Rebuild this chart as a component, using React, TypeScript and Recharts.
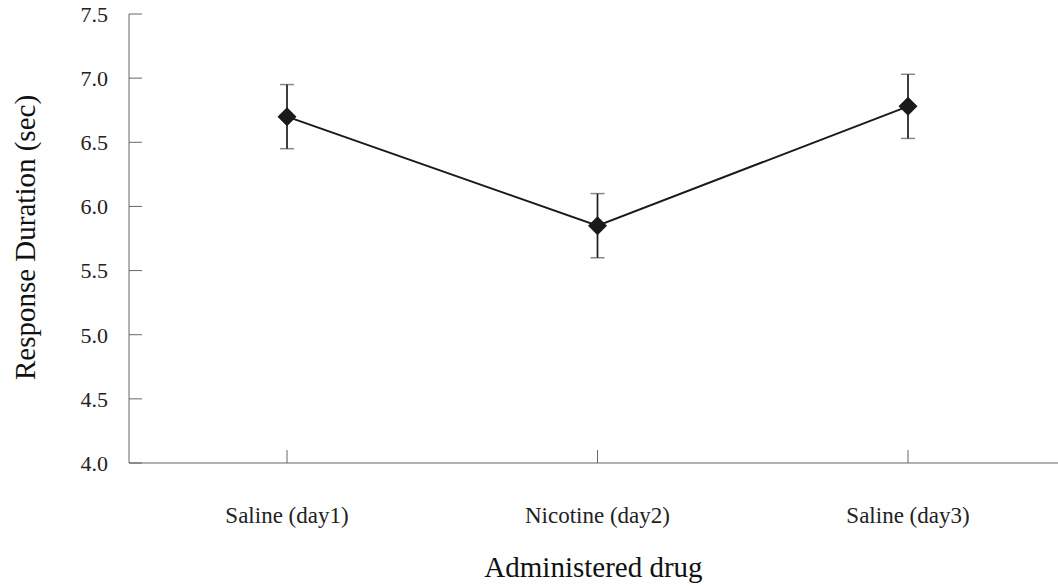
import {
  LineChart,
  Line,
  XAxis,
  YAxis,
  ErrorBar,
} from "recharts";

const categories = ["Saline (day1)", "Nicotine (day2)", "Saline (day3)"];
const durations = [6.7, 5.85, 6.78];
const errors = [0.25, 0.25, 0.25];
const yTicks = [4.0, 4.5, 5.0, 5.5, 6.0, 6.5, 7.0, 7.5];

const FONT = "'Liberation Serif', 'Times New Roman', serif";

const chartData = categories.map((c, i) => ({
  drug: c,
  duration: durations[i],
  err: errors[i],
}));

function Diamond(props: any) {
  const { cx, cy } = props;
  if (cx == null || cy == null) return null;
  const r = 9.5;
  return (
    <polygon
      points={`${cx},${cy - r} ${cx + r},${cy} ${cx},${cy + r} ${cx - r},${cy}`}
      fill="#1a1a1a"
    />
  );
}

export default function App() {
  return (
    <div style={{ position: "absolute", left: 0, top: 0 }}>
      <LineChart
        width={1058}
        height={587}
        data={chartData}
        margin={{ top: 14, right: 0, bottom: 0, left: 8 }}
      >
        <XAxis
          dataKey="drug"
          height={124}
          padding={{ left: 158, right: 150 }}
          stroke="#666"
          tickSize={-13}
          tickMargin={57}
          tick={{ fontSize: 23, fontFamily: FONT, fill: "#222" }}
          label={({ viewBox }: any) => (
            <text
              x={viewBox.x + viewBox.width / 2}
              y={viewBox.y + 114}
              textAnchor="middle"
              fontFamily={FONT}
              fontSize={29}
              fill="#111"
            >
              Administered drug
            </text>
          )}
        />
        <YAxis
          width={121}
          domain={[4, 7.5]}
          ticks={yTicks}
          interval={0}
          stroke="#666"
          tickSize={-13}
          tickMargin={34}
          tickFormatter={(v: number) => v.toFixed(1)}
          tick={{ fontSize: 22, fontFamily: FONT, fill: "#222" }}
          label={({ viewBox }: any) => {
            const x = viewBox.x + 27;
            const y = viewBox.y + viewBox.height / 2 - 1;
            return (
              <text
                x={x}
                y={y}
                transform={`rotate(-90, ${x}, ${y})`}
                textAnchor="middle"
                fontFamily={FONT}
                fontSize={29}
                fill="#111"
              >
                Response Duration (sec)
              </text>
            );
          }}
        />
        <Line
          type="linear"
          dataKey="duration"
          stroke="#1a1a1a"
          strokeWidth={2}
          dot={<Diamond />}
          activeDot={false}
          isAnimationActive={false}
        >
          <ErrorBar dataKey="err" width={7} stroke="#888" strokeWidth={1.5} direction="y" />
          <ErrorBar dataKey="err" width={0} stroke="#1a1a1a" strokeWidth={1.5} direction="y" />
        </Line>
      </LineChart>
    </div>
  );
}
